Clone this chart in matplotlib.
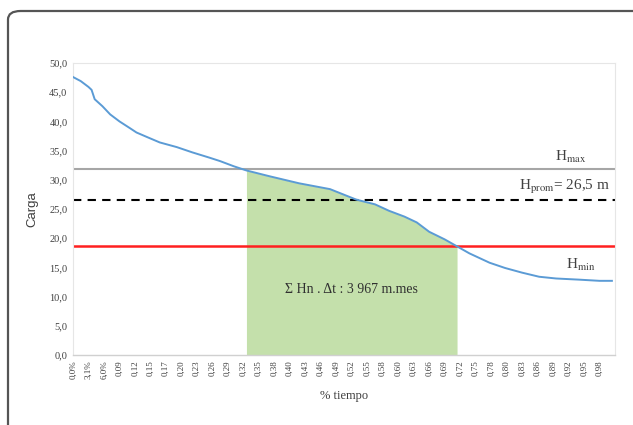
import numpy as np
import matplotlib
matplotlib.use('Agg')
import matplotlib.pyplot as plt
from matplotlib.patches import FancyBboxPatch

# Duration curve (category index, head in m)
curve_x = [0, 5, 10, 12, 14, 19, 24, 30, 37, 41, 48, 56, 67, 77, 88, 95, 104, 112,
           127, 146, 166, 183, 195, 204, 214, 222, 230, 240, 248, 256, 269, 279, 290,
           301, 312, 327, 340, 348]
curve_y = [47.6, 46.9, 45.9, 45.4, 43.8, 42.6, 41.2, 40.0, 38.8, 38.1, 37.3, 36.4, 35.6,
           34.7, 33.8, 33.2, 32.3, 31.6, 30.6, 29.4, 28.4, 26.6, 25.8, 24.7, 23.7, 22.7,
           21.1, 19.8, 18.6, 17.4, 15.8, 14.9, 14.1, 13.4, 13.1, 12.9, 12.7, 12.7]

h_max = 31.8
h_prom = 26.5
h_min = 18.6
area_start = 112
area_end = 248

tick_labels = ['0,0%', '3,1%', '6,0%', '0,09', '0,12', '0,15', '0,17', '0,20', '0,23',
               '0,26', '0,29', '0,32', '0,35', '0,38', '0,40', '0,43', '0,46', '0,49',
               '0,52', '0,55', '0,58', '0,60', '0,63', '0,66', '0,69', '0,72', '0,75',
               '0,78', '0,80', '0,83', '0,86', '0,89', '0,92', '0,95', '0,98']
y_ticks = [0, 5, 10, 15, 20, 25, 30, 35, 40, 45, 50]

serif = 'Liberation Serif'
plt.rcParams['mathtext.fontset'] = 'stix'

W, H = 633, 425


def fig_xy(px, py):
    # pixel position (from top-left) -> figure fraction
    return px / W, 1 - py / H


fig = plt.figure(figsize=(6.33, 4.25), dpi=100)
ax = fig.add_axes([73 / W, 1 - 355 / H, (615 - 73) / W, (355 - 63) / H])

# outer frame with rounded corner
frame = FancyBboxPatch((8 / W, -0.1), 1.2, 1.1 - 11 / H,
                       boxstyle='round,pad=0,rounding_size=0.02',
                       transform=fig.transFigure, fill=False,
                       edgecolor='#555555', linewidth=1.6, zorder=0)
fig.patches.append(frame)

cx = np.array(curve_x)
cy = np.array(curve_y)
mask = (cx >= area_start) & (cx <= area_end)
ax.fill_between(cx[mask], 0, cy[mask], color='#c4e0ab', linewidth=0, zorder=1)

ax.axhline(h_max, color='#a6a6a6', linewidth=1.5, zorder=2)
ax.axhline(h_prom, color='black', linewidth=1.5, linestyle=(0, (4, 3)), zorder=2)
ax.axhline(h_min, color='#ff2020', linewidth=1.8, zorder=2)
ax.plot(cx, cy, color='#5b9bd5', linewidth=1.4, zorder=3)

ax.set_xlim(0, 350)
ax.set_ylim(0, 50)
ax.set_yticks(y_ticks)
ax.set_yticklabels([f'{v:.1f}'.replace('.', ',') for v in y_ticks],
                   fontsize=7.5, family=serif, color='#404040')
ax.set_xticks(np.arange(len(tick_labels)) * 10)
ax.set_xticklabels(tick_labels, rotation=90, fontsize=6.5, family=serif, color='#404040')
ax.tick_params(axis='both', length=0, pad=4)

for side in ['top', 'right', 'left']:
    ax.spines[side].set_color('#e6e6e6')
    ax.spines[side].set_linewidth(0.8)
ax.spines['bottom'].set_color('#d0d0d0')
ax.spines['bottom'].set_linewidth(1.0)

ax.set_ylabel('Carga', fontsize=9.5, family='Liberation Sans', color='#404040', labelpad=8)
ax.set_xlabel('% tiempo', fontsize=9, family=serif, color='#404040', labelpad=8)

fig.text(*fig_xy(555, 157), 'H$_{\\mathrm{max}}$', fontsize=11, family=serif,
         color='#404040', va='center')
fig.text(*fig_xy(519, 187), 'H$_{\\mathrm{prom}}$= 26,5 m', fontsize=11, family=serif,
         color='#404040', va='center')
fig.text(*fig_xy(566, 265), 'H$_{\\mathrm{min}}$', fontsize=11, family=serif,
         color='#404040', va='center')
ax.text(180, 11.2, 'Σ Hn . Δt : 3 967 m.mes', fontsize=10, family=serif,
        color='#303030', ha='center', va='center', zorder=4)

fig.savefig('out.png', dpi=100)
